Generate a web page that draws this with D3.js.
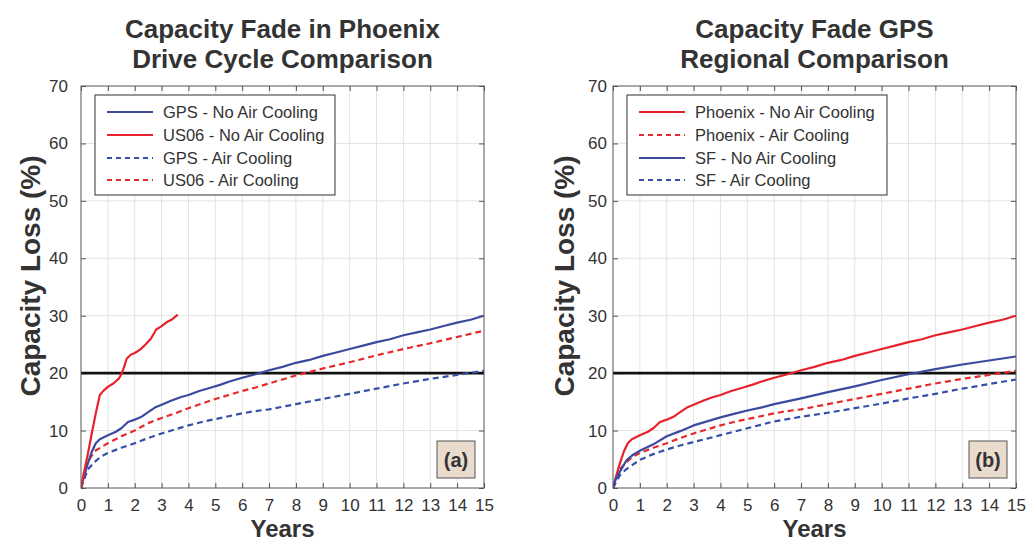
<!DOCTYPE html>
<html><head><meta charset="utf-8">
<script src="https://cdn.jsdelivr.net/npm/d3@7"></script>
<style>body{margin:0;background:#fff;} svg{display:block;font-family:"Liberation Sans",Arial,Helvetica,sans-serif;}</style>
</head><body>
<svg id="c" width="1027" height="543"></svg>
<script>
// ---- data ----
const xTicks = d3.range(0, 16, 1);
const yTicks = [0, 10, 20, 30, 40, 50, 60, 70];
const threshold = 20;

// GPS drive cycle in Phoenix, no air cooling
const gpsPhxNoAirX = [0,0.1,0.25,0.4,0.55,0.7,1.0,1.3,1.5,1.75,2.0,2.25,2.5,2.75,3.0,3.35,3.7,4.0,4.4,4.85,5.2,5.5,6.0,6.5,7,7.5,8,8.5,9,9.5,10,10.5,11,11.5,12,12.5,13,13.5,14,14.5,15];
const gpsPhxNoAirY = [0,1.8,4.2,6.3,7.8,8.5,9.2,9.8,10.4,11.5,11.9,12.4,13.2,14.0,14.5,15.2,15.8,16.2,16.9,17.5,18.0,18.5,19.2,19.8,20.5,21.1,21.8,22.3,23.0,23.6,24.2,24.8,25.4,25.9,26.6,27.1,27.6,28.2,28.8,29.3,30.0];
// US06 in Phoenix, no air cooling
const us06NoAirX = [0,0.1,0.25,0.4,0.55,0.7,0.85,1.0,1.2,1.4,1.5,1.6,1.7,1.85,2.0,2.2,2.4,2.6,2.8,3.0,3.2,3.4,3.6];
const us06NoAirY = [0,2.5,5.8,9.5,13.0,16.2,17.0,17.6,18.2,19.0,19.8,21.0,22.5,23.2,23.5,24.1,25.0,26.0,27.6,28.2,28.9,29.4,30.2];
// GPS in Phoenix, air cooling
const gpsPhxAirX = [0,0.25,0.5,0.75,1,1.5,2,2.5,3,3.5,4,4.5,5,5.5,6,6.5,7,8,9,10,11,12,13,14,15];
const gpsPhxAirY = [0,3.2,4.5,5.5,6.1,7.0,7.8,8.7,9.5,10.2,10.9,11.5,12.0,12.5,13.0,13.4,13.7,14.6,15.5,16.4,17.3,18.2,19.0,19.7,20.4];
// US06 in Phoenix, air cooling
const us06AirX = [0,0.25,0.5,1,1.5,2,2.5,3,3.5,4,4.5,5,5.5,6,6.5,7,7.5,8,9,10,11,12,13,14,15];
const us06AirY = [0,4.5,6.4,7.8,9.0,10.0,11.3,12.2,13.0,13.9,14.7,15.5,16.2,16.9,17.5,18.2,18.9,19.6,20.8,21.9,23.1,24.2,25.2,26.3,27.4];
// GPS in SF, no air cooling
const sfNoAirX = [0,0.1,0.25,0.5,0.75,1,1.5,2,2.5,3,3.5,4,4.5,5,5.5,6,7,8,9,10,11,12,13,14,15];
const sfNoAirY = [0,1.5,2.8,4.8,5.8,6.5,7.6,9.0,9.9,10.9,11.6,12.3,12.9,13.5,14.0,14.6,15.6,16.7,17.7,18.8,19.8,20.7,21.5,22.2,22.9];
// GPS in SF, air cooling
const sfAirX = [0,0.25,0.5,1,1.5,2,2.5,3,3.5,4,4.5,5,5.5,6,7,8,9,10,11,12,13,14,15];
const sfAirY = [0,2.2,3.3,4.9,5.9,6.7,7.4,8.0,8.6,9.2,9.8,10.4,11.0,11.6,12.4,13.1,13.9,14.7,15.6,16.4,17.3,18.1,18.9];

const titlesA = ["Capacity Fade in Phoenix", "Drive Cycle Comparison"];
const titlesB = ["Capacity Fade GPS", "Regional Comparison"];
const legendA = ["GPS - No Air Cooling", "US06 - No Air Cooling", "GPS - Air Cooling", "US06 - Air Cooling"];
const legendB = ["Phoenix - No Air Cooling", "Phoenix - Air Cooling", "SF - No Air Cooling", "SF - Air Cooling"];
const xLabel = "Years";
const yLabel = "Capacity Loss (%)";

const BLUE = "#3b4a9e", RED = "#e8222c", BLUE_D = "#3550a8", RED_D = "#e42a2a";

const panels = [
  { x0: 81, x1: 484, yLabX: 30, tickGap: 13, titles: titlesA, tag: "(a)", legW: 240,
    series: [
      { name: legendA[0], x: gpsPhxNoAirX, y: gpsPhxNoAirY, color: BLUE, dash: null },
      { name: legendA[1], x: us06NoAirX, y: us06NoAirY, color: RED, dash: null },
      { name: legendA[2], x: gpsPhxAirX, y: gpsPhxAirY, color: BLUE_D, dash: "6,4" },
      { name: legendA[3], x: us06AirX, y: us06AirY, color: RED_D, dash: "6,4" } ] },
  { x0: 613, x1: 1016, yLabX: 564, tickGap: 6, titles: titlesB, tag: "(b)", legW: 260,
    series: [
      { name: legendB[0], x: gpsPhxNoAirX, y: gpsPhxNoAirY, color: RED, dash: null },
      { name: legendB[1], x: gpsPhxAirX, y: gpsPhxAirY, color: RED_D, dash: "6,4" },
      { name: legendB[2], x: sfNoAirX, y: sfNoAirY, color: BLUE, dash: null },
      { name: legendB[3], x: sfAirX, y: sfAirY, color: BLUE_D, dash: "6,4" } ] }
];

const svg = d3.select("#c");
const yTop = 86, yBot = 488;
const TXT = "#333";

panels.forEach((p, pi) => {
  const x = d3.scaleLinear().domain([0, 15]).range([p.x0, p.x1]);
  const y = d3.scaleLinear().domain([0, 70]).range([yBot, yTop]);
  const g = svg.append("g");
  const cx = (p.x0 + p.x1) / 2;

  // grid
  g.append("g").selectAll("line.vg").data(xTicks.slice(1, -1)).join("line")
    .attr("x1", d => x(d)).attr("x2", d => x(d)).attr("y1", yTop).attr("y2", yBot)
    .attr("stroke", "#e3e3e3").attr("stroke-width", 1);
  g.append("g").selectAll("line.hg").data(yTicks.slice(1, -1)).join("line")
    .attr("x1", p.x0).attr("x2", p.x1).attr("y1", d => y(d)).attr("y2", d => y(d))
    .attr("stroke", "#e3e3e3").attr("stroke-width", 1);

  // axes with inward ticks
  const axB = d3.axisBottom(x).tickValues(xTicks).tickSize(-5).tickPadding(11).tickFormat(d3.format("d"));
  const axT = d3.axisTop(x).tickValues(xTicks).tickSize(-5).tickFormat("");
  const axL = d3.axisLeft(y).tickValues(yTicks).tickSize(-5).tickPadding(p.tickGap).tickFormat(d3.format("d"));
  const axR = d3.axisRight(y).tickValues(yTicks).tickSize(-5).tickFormat("");
  const style = sel => {
    sel.select(".domain").remove();
    sel.selectAll(".tick line").attr("stroke", "#555");
    sel.selectAll("text").attr("fill", TXT).style("font-size", "17px").style("font-family", "'Liberation Sans',Arial,sans-serif");
  };
  g.append("g").attr("transform", `translate(0,${yBot})`).call(axB).call(style);
  g.append("g").attr("transform", `translate(0,${yTop})`).call(axT).call(style);
  g.append("g").attr("transform", `translate(${p.x0},0)`).call(axL).call(style);
  g.append("g").attr("transform", `translate(${p.x1},0)`).call(axR).call(style);

  // clip
  const cid = "clip" + pi;
  svg.append("clipPath").attr("id", cid).append("rect")
    .attr("x", p.x0).attr("y", yTop).attr("width", p.x1 - p.x0).attr("height", yBot - yTop);

  // threshold
  g.append("line").attr("x1", p.x0).attr("x2", p.x1).attr("y1", y(threshold)).attr("y2", y(threshold))
    .attr("stroke", "#111").attr("stroke-width", 2.6);

  const line = d3.line().x(d => x(d[0])).y(d => y(d[1]));
  const lg = g.append("g").attr("clip-path", `url(#${cid})`);
  const order = p.series.slice().sort((a, b) => (a.dash ? 0 : 1) - (b.dash ? 0 : 1));
  order.forEach(s => {
    lg.append("path").datum(s.x.map((v, i) => [v, s.y[i]]))
      .attr("d", line).attr("fill", "none").attr("stroke", s.color)
      .attr("stroke-width", 2.2).attr("stroke-dasharray", s.dash)
      .attr("stroke-linejoin", "round");
  });

  // frame
  g.append("rect").attr("x", p.x0).attr("y", yTop).attr("width", p.x1 - p.x0).attr("height", yBot - yTop)
    .attr("fill", "none").attr("stroke", "#555").attr("stroke-width", 1);

  // legend
  const lx = p.x0 + 14, ly = 95, lh = 100;
  const leg = g.append("g");
  leg.append("rect").attr("x", lx).attr("y", ly).attr("width", p.legW).attr("height", lh)
    .attr("fill", "#fff").attr("stroke", "#333").attr("stroke-width", 1);
  const rowY = [112, 135, 158, 180];
  p.series.forEach((s, i) => {
    leg.append("line").attr("x1", lx + 12).attr("x2", lx + 58).attr("y1", rowY[i]).attr("y2", rowY[i])
      .attr("stroke", s.color).attr("stroke-width", 2.2).attr("stroke-dasharray", s.dash ? "5,4" : null);
    leg.append("text").attr("x", lx + 68).attr("y", rowY[i]).attr("dy", "0.35em")
      .attr("fill", TXT).style("font-size", "16.5px").text(s.name);
  });

  // tag box
  g.append("rect").attr("x", p.x1 - 47).attr("y", 441).attr("width", 38).attr("height", 37)
    .attr("fill", "#eadccd").attr("stroke", "#555").attr("stroke-width", 1);
  g.append("text").attr("x", p.x1 - 28).attr("y", 459.5).attr("dy", "0.36em").attr("text-anchor", "middle")
    .attr("fill", TXT).style("font-size", "20px").style("font-weight", "bold").text(p.tag);

  // titles
  p.titles.forEach((t, i) => {
    g.append("text").attr("x", cx).attr("y", 38 + i * 30).attr("text-anchor", "middle")
      .attr("fill", TXT).style("font-size", "26px").style("font-weight", "bold").text(t);
  });

  // axis labels
  g.append("text").attr("x", cx).attr("y", 537).attr("text-anchor", "middle")
    .attr("fill", TXT).style("font-size", "24px").style("font-weight", "bold").text(xLabel);
  g.append("text").attr("transform", `translate(${p.yLabX},276) rotate(-90)`)
    .attr("text-anchor", "middle").attr("dy", "0.35em")
    .attr("fill", TXT).style("font-size", "28px").style("font-weight", "bold").text(yLabel);
});
</script>
</body></html>
